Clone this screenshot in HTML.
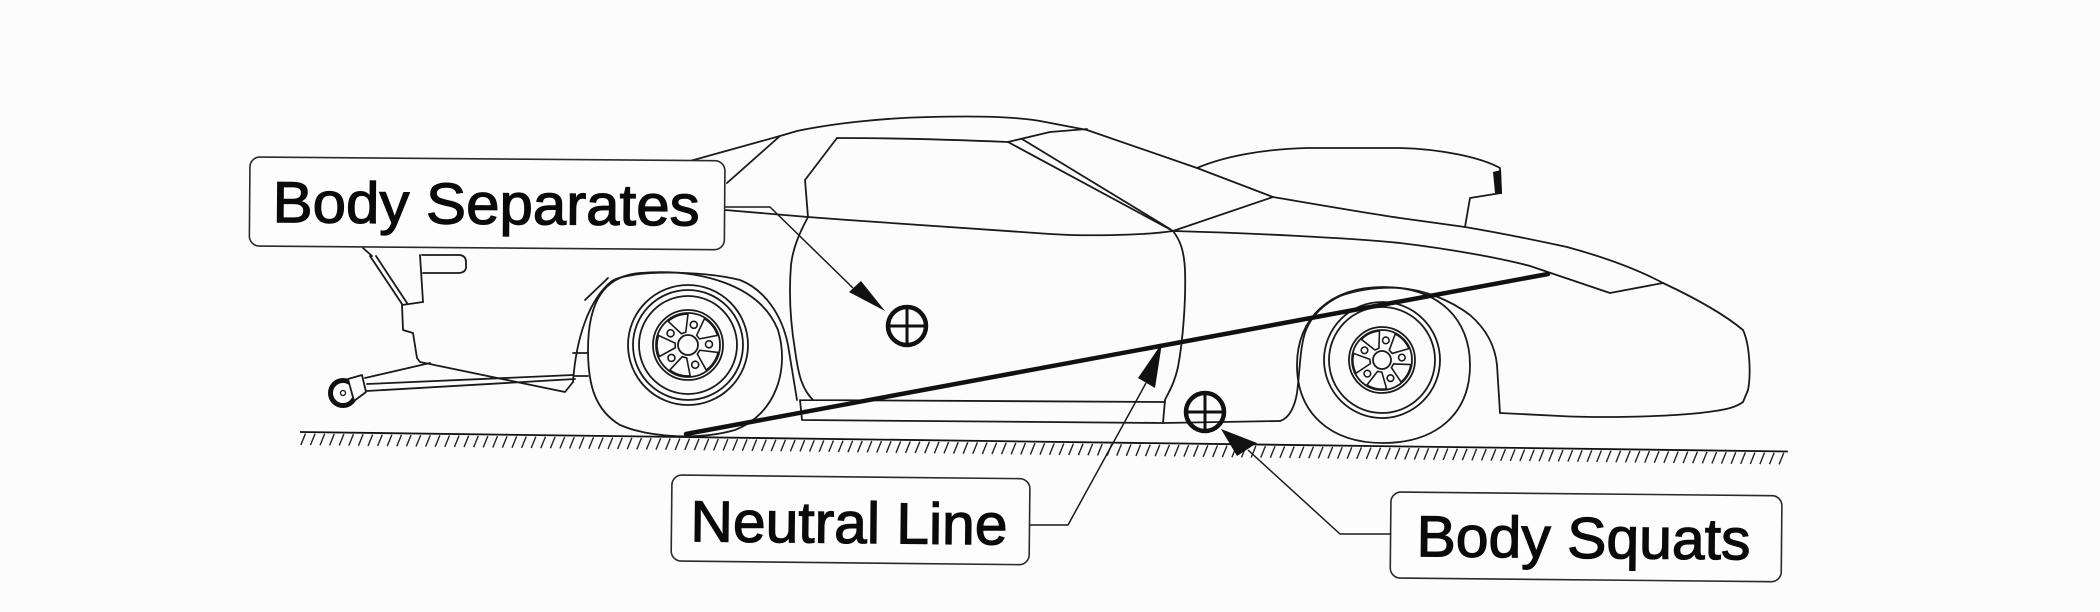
<!DOCTYPE html>
<html>
<head>
<meta charset="utf-8">
<style>
  html,body{margin:0;padding:0;background:#fcfcfc;}
  svg{display:block;}
  .t{font-family:"Liberation Sans", Arial, sans-serif;font-size:58px;fill:#0a0a0a;stroke:#0a0a0a;stroke-width:1.2;}
</style>
</head>
<body>
<svg width="2100" height="612" viewBox="0 0 2100 612" xmlns="http://www.w3.org/2000/svg">
  <rect width="2100" height="612" fill="#fcfcfc"/>

  <!-- ground -->
  <g transform="rotate(0.75 300 432)">
    <line x1="300" y1="432" x2="1788" y2="432" stroke="#111" stroke-width="1.8"/>
    <path fill="none" stroke="#222" stroke-width="1.4" d="M301,445l4.5,-11.5
m5.1,11.5l4.5,-11.5m5.1,11.5l4.5,-11.5m5.1,11.5l4.5,-11.5m5.1,11.5l4.5,-11.5m5.1,11.5l4.5,-11.5m5.1,11.5l4.5,-11.5m5.1,11.5l4.5,-11.5m5.1,11.5l4.5,-11.5m5.1,11.5l4.5,-11.5m5.1,11.5l4.5,-11.5
m5.1,11.5l4.5,-11.5m5.1,11.5l4.5,-11.5m5.1,11.5l4.5,-11.5m5.1,11.5l4.5,-11.5m5.1,11.5l4.5,-11.5m5.1,11.5l4.5,-11.5m5.1,11.5l4.5,-11.5m5.1,11.5l4.5,-11.5m5.1,11.5l4.5,-11.5m5.1,11.5l4.5,-11.5
m5.1,11.5l4.5,-11.5m5.1,11.5l4.5,-11.5m5.1,11.5l4.5,-11.5m5.1,11.5l4.5,-11.5m5.1,11.5l4.5,-11.5m5.1,11.5l4.5,-11.5m5.1,11.5l4.5,-11.5m5.1,11.5l4.5,-11.5m5.1,11.5l4.5,-11.5m5.1,11.5l4.5,-11.5
m5.1,11.5l4.5,-11.5m5.1,11.5l4.5,-11.5m5.1,11.5l4.5,-11.5m5.1,11.5l4.5,-11.5m5.1,11.5l4.5,-11.5m5.1,11.5l4.5,-11.5m5.1,11.5l4.5,-11.5m5.1,11.5l4.5,-11.5m5.1,11.5l4.5,-11.5m5.1,11.5l4.5,-11.5
m5.1,11.5l4.5,-11.5m5.1,11.5l4.5,-11.5m5.1,11.5l4.5,-11.5m5.1,11.5l4.5,-11.5m5.1,11.5l4.5,-11.5m5.1,11.5l4.5,-11.5m5.1,11.5l4.5,-11.5m5.1,11.5l4.5,-11.5m5.1,11.5l4.5,-11.5m5.1,11.5l4.5,-11.5
m5.1,11.5l4.5,-11.5m5.1,11.5l4.5,-11.5m5.1,11.5l4.5,-11.5m5.1,11.5l4.5,-11.5m5.1,11.5l4.5,-11.5m5.1,11.5l4.5,-11.5m5.1,11.5l4.5,-11.5m5.1,11.5l4.5,-11.5m5.1,11.5l4.5,-11.5m5.1,11.5l4.5,-11.5
m5.1,11.5l4.5,-11.5m5.1,11.5l4.5,-11.5m5.1,11.5l4.5,-11.5m5.1,11.5l4.5,-11.5m5.1,11.5l4.5,-11.5m5.1,11.5l4.5,-11.5m5.1,11.5l4.5,-11.5m5.1,11.5l4.5,-11.5m5.1,11.5l4.5,-11.5m5.1,11.5l4.5,-11.5
m5.1,11.5l4.5,-11.5m5.1,11.5l4.5,-11.5m5.1,11.5l4.5,-11.5m5.1,11.5l4.5,-11.5m5.1,11.5l4.5,-11.5m5.1,11.5l4.5,-11.5m5.1,11.5l4.5,-11.5m5.1,11.5l4.5,-11.5m5.1,11.5l4.5,-11.5m5.1,11.5l4.5,-11.5
m5.1,11.5l4.5,-11.5m5.1,11.5l4.5,-11.5m5.1,11.5l4.5,-11.5m5.1,11.5l4.5,-11.5m5.1,11.5l4.5,-11.5m5.1,11.5l4.5,-11.5m5.1,11.5l4.5,-11.5m5.1,11.5l4.5,-11.5m5.1,11.5l4.5,-11.5m5.1,11.5l4.5,-11.5
m5.1,11.5l4.5,-11.5m5.1,11.5l4.5,-11.5m5.1,11.5l4.5,-11.5m5.1,11.5l4.5,-11.5m5.1,11.5l4.5,-11.5m5.1,11.5l4.5,-11.5m5.1,11.5l4.5,-11.5m5.1,11.5l4.5,-11.5m5.1,11.5l4.5,-11.5m5.1,11.5l4.5,-11.5
m5.1,11.5l4.5,-11.5m5.1,11.5l4.5,-11.5m5.1,11.5l4.5,-11.5m5.1,11.5l4.5,-11.5m5.1,11.5l4.5,-11.5m5.1,11.5l4.5,-11.5m5.1,11.5l4.5,-11.5m5.1,11.5l4.5,-11.5m5.1,11.5l4.5,-11.5m5.1,11.5l4.5,-11.5
m5.1,11.5l4.5,-11.5m5.1,11.5l4.5,-11.5m5.1,11.5l4.5,-11.5m5.1,11.5l4.5,-11.5m5.1,11.5l4.5,-11.5m5.1,11.5l4.5,-11.5m5.1,11.5l4.5,-11.5m5.1,11.5l4.5,-11.5m5.1,11.5l4.5,-11.5m5.1,11.5l4.5,-11.5
m5.1,11.5l4.5,-11.5m5.1,11.5l4.5,-11.5m5.1,11.5l4.5,-11.5m5.1,11.5l4.5,-11.5m5.1,11.5l4.5,-11.5m5.1,11.5l4.5,-11.5m5.1,11.5l4.5,-11.5m5.1,11.5l4.5,-11.5m5.1,11.5l4.5,-11.5m5.1,11.5l4.5,-11.5
m5.1,11.5l4.5,-11.5m5.1,11.5l4.5,-11.5m5.1,11.5l4.5,-11.5m5.1,11.5l4.5,-11.5m5.1,11.5l4.5,-11.5m5.1,11.5l4.5,-11.5m5.1,11.5l4.5,-11.5m5.1,11.5l4.5,-11.5m5.1,11.5l4.5,-11.5m5.1,11.5l4.5,-11.5
m5.1,11.5l4.5,-11.5m5.1,11.5l4.5,-11.5m5.1,11.5l4.5,-11.5m5.1,11.5l4.5,-11.5m5.1,11.5l4.5,-11.5m5.1,11.5l4.5,-11.5m5.1,11.5l4.5,-11.5m5.1,11.5l4.5,-11.5m5.1,11.5l4.5,-11.5m5.1,11.5l4.5,-11.5
m5.1,11.5l4.5,-11.5m5.1,11.5l4.5,-11.5m5.1,11.5l4.5,-11.5m5.1,11.5l4.5,-11.5"/>
  </g>

  <!-- car outline -->
  <g fill="none" stroke="#1a1a1a" stroke-width="1.8" stroke-linejoin="round" stroke-linecap="round">
    <!-- roof / windshield / hood / nose -->
    <path d="M690,161 L780,136 L797,131 C830,124 880,118 930,117 C970,116 1010,116 1040,121 L1087,130 L1197,168 L1273,197 C1320,205 1360,212 1400,218 L1465,227 C1500,233 1535,240 1567,247 C1600,256 1635,268 1663,283 C1695,298 1725,315 1743,330 C1750,345 1751,375 1748,390 L1743,402 C1735,408 1725,410 1700,413 C1660,417 1600,418 1560,416 L1500,413"/>
    <!-- front arch -->
    <path d="M1280,421 C1290,418 1295,405 1297,393 C1300,370 1300,345 1306,330 C1312,315 1325,303 1340,296 C1360,289 1380,287 1400,288 C1425,290 1450,300 1470,315 C1485,328 1495,345 1497,365 L1500,413"/>
    <!-- hood scoop -->
    <path d="M1197,168 C1225,156 1265,149 1307,148 L1400,148 C1440,149 1480,157 1500,168 L1501,193 L1470,198 L1465,227"/>
    <polygon points="1493,172 1501,170 1502,194 1495,193" fill="#111" stroke="none"/>
    <!-- cowl and fender top -->
    <path d="M1173,231 L1273,197"/>
    <path d="M1173,231 C1250,233 1350,238 1400,243 C1450,249 1500,258 1530,266 L1610,293 L1663,283"/>
    <!-- windshield frame / A pillar -->
    <path d="M1008,142 L1050,132 L1087,129"/>
    <path d="M1008,142 L1173,231"/>
    <path d="M1022,139 L1170,229"/>
    <!-- side window top -->
    <path d="M837,138 C900,138 960,140 1008,142"/>
    <!-- door rear edge -->
    <path d="M837,138 L805,180 L808,217 C800,232 793,247 791,265 C789,290 790,320 795,350 C798,372 801,388 813,400"/>
    <!-- C pillar -->
    <path d="M780,136 L727,183"/>
    <!-- belt line -->
    <path d="M725,210 L808,217 C900,224 1000,231 1050,234 C1080,236 1140,236 1173,231"/>
    <!-- front door edge -->
    <path d="M1173,231 C1180,240 1184,250 1185,270 C1186,300 1183,340 1178,367 C1174,385 1168,393 1165,400 L1163,423"/>
    <!-- rocker -->
    <path d="M800,400 L1165,402 M802,420 L1163,423 L1280,421 M800,400 L802,420"/>
    <!-- rear arch -->
    <path d="M573,382 C576,340 588,300 612,281 C630,270 700,270 740,280 C765,290 782,315 788,345 L797,400"/>
    <path d="M585,300 L608,278"/>
    <!-- rear body -->
    <path d="M402,305 L423,302 M402,305 L403,330 L413,333 L417,358 L420,362 L565,392 L573,382"/>
    <path d="M420,255 L423,302"/>
    <path d="M370,256 L402,304 M376,256 L407,303 M363,248 L372,256"/>
    <path d="M422,255 L460,255 Q466,256 466,262 L466,268 Q465,273 458,273 L423,273"/>
    <path d="M573,353 L588,353 M575,376 L588,376"/>
    <!-- wheelie bar -->
    <path d="M365,378 L430,363 M367,384 L573,375 M367,391 L575,379"/>
  </g>
  <circle cx="343" cy="393" r="12.5" fill="#fff" stroke="#111" stroke-width="5"/>
  <circle cx="343" cy="393" r="2.5" fill="none" stroke="#111" stroke-width="1.3"/>
  <path d="M348,379 L362,375 L366,392 L354,401 Z" fill="#fcfcfc" stroke="#1a1a1a" stroke-width="1.8" stroke-linejoin="round"/>

  <!-- rear tire & rim -->
  <g fill="none" stroke="#1a1a1a" stroke-width="1.8">
    <path d="M640,273 C700,268 760,285 778,330 C790,370 775,415 735,430 C700,440 650,438 620,425 C595,410 588,385 588,350 C588,300 605,276 640,273 Z"/>
    <g transform="translate(688,345)">
      <circle r="60"/><circle r="55"/><circle r="49"/><circle r="35"/><circle r="32"/><circle r="10"/>
      <g transform="rotate(-20)" stroke-width="1.6">
        <path d="M-2.3,-12.8 L-10.6,-29.1 A31,31 0 0 1 10.6,-29.1 L2.3,-12.8 Z"/>
        <path transform="rotate(72)" d="M-2.3,-12.8 L-10.6,-29.1 A31,31 0 0 1 10.6,-29.1 L2.3,-12.8 Z"/>
        <path transform="rotate(144)" d="M-2.3,-12.8 L-10.6,-29.1 A31,31 0 0 1 10.6,-29.1 L2.3,-12.8 Z"/>
        <path transform="rotate(216)" d="M-2.3,-12.8 L-10.6,-29.1 A31,31 0 0 1 10.6,-29.1 L2.3,-12.8 Z"/>
        <path transform="rotate(288)" d="M-2.3,-12.8 L-10.6,-29.1 A31,31 0 0 1 10.6,-29.1 L2.3,-12.8 Z"/>
        <circle transform="rotate(36)" cx="0" cy="-21" r="3.5"/>
        <circle transform="rotate(108)" cx="0" cy="-21" r="3.5"/>
        <circle transform="rotate(180)" cx="0" cy="-21" r="3.5"/>
        <circle transform="rotate(252)" cx="0" cy="-21" r="3.5"/>
        <circle transform="rotate(324)" cx="0" cy="-21" r="3.5"/>
      </g>
    </g>
  </g>

  <!-- front tire & rim -->
  <g fill="none" stroke="#1a1a1a" stroke-width="1.8">
    <path d="M1383,287 C1440,287 1470,320 1470,365 C1470,415 1435,443 1383,443 C1330,443 1297,413 1297,365 C1297,318 1330,287 1383,287 Z"/>
    <g transform="translate(1382,360)">
      <circle r="58"/><circle r="53"/><circle r="33"/><circle r="30"/><circle r="9"/>
      <g transform="rotate(-25)" stroke-width="1.6">
        <path d="M-2.2,-12 L-10,-27.4 A29,29 0 0 1 10,-27.4 L2.2,-12 Z"/>
        <path transform="rotate(72)" d="M-2.2,-12 L-10,-27.4 A29,29 0 0 1 10,-27.4 L2.2,-12 Z"/>
        <path transform="rotate(144)" d="M-2.2,-12 L-10,-27.4 A29,29 0 0 1 10,-27.4 L2.2,-12 Z"/>
        <path transform="rotate(216)" d="M-2.2,-12 L-10,-27.4 A29,29 0 0 1 10,-27.4 L2.2,-12 Z"/>
        <path transform="rotate(288)" d="M-2.2,-12 L-10,-27.4 A29,29 0 0 1 10,-27.4 L2.2,-12 Z"/>
        <circle transform="rotate(36)" cx="0" cy="-20" r="3.3"/>
        <circle transform="rotate(108)" cx="0" cy="-20" r="3.3"/>
        <circle transform="rotate(180)" cx="0" cy="-20" r="3.3"/>
        <circle transform="rotate(252)" cx="0" cy="-20" r="3.3"/>
        <circle transform="rotate(324)" cx="0" cy="-20" r="3.3"/>
      </g>
    </g>
  </g>

  <!-- neutral line -->
  <line x1="686" y1="434" x2="1548" y2="274" stroke="#111" stroke-width="4.5" stroke-linecap="round"/>

  <!-- labels -->
  <g transform="rotate(0.45 250 157)">
    <rect x="250" y="157" width="475" height="89" rx="10" fill="#fdfdfd" stroke="#2a2a2a" stroke-width="1.6"/>
    <text class="t" x="273" y="222" textLength="427" lengthAdjust="spacingAndGlyphs">Body Separates</text>
  </g>
  <g transform="rotate(0.6 672 475)">
    <rect x="672" y="475" width="358" height="86" rx="10" fill="#fdfdfd" stroke="#2a2a2a" stroke-width="1.6"/>
    <text class="t" x="691" y="541" textLength="317" lengthAdjust="spacingAndGlyphs">Neutral Line</text>
  </g>
  <g transform="rotate(0.55 1391 492)">
    <rect x="1391" y="492" width="391" height="86" rx="10" fill="#fdfdfd" stroke="#2a2a2a" stroke-width="1.6"/>
    <text class="t" x="1417" y="556" textLength="334" lengthAdjust="spacingAndGlyphs">Body Squats</text>
  </g>

  <!-- leaders -->
  <g fill="none" stroke="#1a1a1a" stroke-width="1.5" stroke-linejoin="round">
    <path d="M725,207 L770,207 L853,288"/>
    <path d="M1030,525 L1068,525 L1146,383"/>
    <path d="M1391,534 L1340,534 L1248,450"/>
  </g>
  <polygon points="849,292 861,281 885,311" fill="#111"/>
  <polygon points="1138,378 1155,388 1162,343" fill="#111"/>
  <polygon points="1237,456 1257,443 1221,429" fill="#111"/>

  <!-- markers -->
  <g fill="none" stroke="#111">
    <circle cx="907" cy="326" r="19" stroke-width="4.5"/>
    <line x1="889" y1="326" x2="925" y2="326" stroke-width="3"/>
    <line x1="907" y1="308" x2="907" y2="344" stroke-width="3"/>
    <circle cx="1205" cy="412" r="19" stroke-width="4.5"/>
    <line x1="1187" y1="412" x2="1223" y2="412" stroke-width="3"/>
    <line x1="1205" y1="394" x2="1205" y2="430" stroke-width="3"/>
  </g>
</svg>
</body>
</html>
